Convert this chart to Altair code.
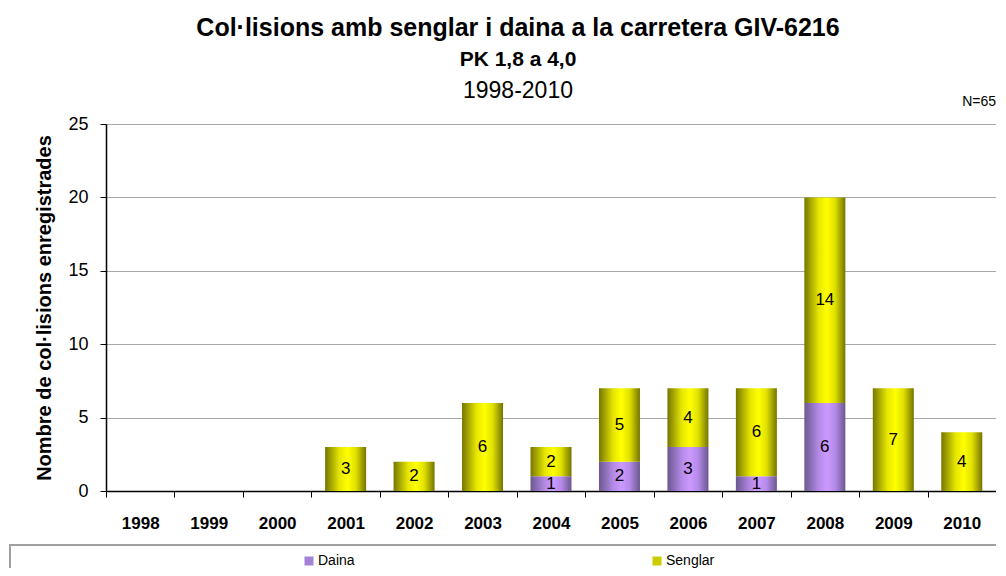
import altair as alt
import pandas as pd

years = ["1998", "1999", "2000", "2001", "2002", "2003", "2004",
         "2005", "2006", "2007", "2008", "2009", "2010"]
daina = [0, 0, 0, 0, 0, 0, 1, 2, 3, 1, 6, 0, 0]
senglar = [0, 0, 0, 3, 2, 6, 2, 5, 4, 6, 14, 7, 4]
series = ["Daina", "Senglar"]
series_colors = ["#a383d6", "#cccc00"]
y_ticks = [0, 5, 10, 15, 20, 25]

title1 = "Col·lisions amb senglar i daina a la carretera GIV-6216"
title2 = "PK 1,8 a 4,0"
title3 = "1998-2010"
note = "N=65"
y_title = "Nombre de col·lisions enregistrades"

FONT = "Liberation Sans"
W, H = 890, 367

df = pd.DataFrame({"year": years, "daina": daina, "senglar": senglar})
long_df = pd.DataFrame({
    "year": years * 2,
    "series": ["Daina"] * len(years) + ["Senglar"] * len(years),
    "value": daina + senglar,
})

yellow = alt.Gradient(
    gradient="linear", x1=0, x2=1, y1=0, y2=0,
    stops=[alt.GradientStop(color="#767600", offset=0),
           alt.GradientStop(color="#e6e600", offset=0.35),
           alt.GradientStop(color="#ffff00", offset=0.55),
           alt.GradientStop(color="#e0e000", offset=0.75),
           alt.GradientStop(color="#747400", offset=1)])
purple = alt.Gradient(
    gradient="linear", x1=0, x2=1, y1=0, y2=0,
    stops=[alt.GradientStop(color="#6a5890", offset=0),
           alt.GradientStop(color="#b48ae6", offset=0.35),
           alt.GradientStop(color="#cc99ff", offset=0.55),
           alt.GradientStop(color="#b58ae8", offset=0.75),
           alt.GradientStop(color="#6a5890", offset=1)])

xenc = alt.X("year:O", sort=years,
             scale=alt.Scale(paddingInner=0, paddingOuter=0),
             axis=alt.Axis(title=None, labelAngle=0, labelFont=FONT,
                           labelFontSize=17, labelFontWeight="bold",
                           labelColor="#000", labelPadding=18,
                           tickBand="extent", tickSize=6, tickColor="#000",
                           domainColor="#000", domainWidth=1.5, grid=False))
yscale = alt.Scale(domain=[0, 25], nice=False)
yaxis = alt.Axis(title=y_title, values=y_ticks, titleFont=FONT,
                 titleFontSize=20, titleFontWeight="bold", titleColor="#000",
                 titlePadding=13, labelFont=FONT, labelFontSize=18,
                 labelColor="#000", labelPadding=12, tickSize=6,
                 tickColor="#000", domainColor="#000", domainWidth=1.5,
                 grid=True, gridColor="#a8a8a8", gridWidth=1.2)

base = alt.Chart(df)

bars_d = base.transform_filter("datum.daina > 0").mark_bar(
    fill=purple, size=41).encode(
    x=xenc, y=alt.Y("daina:Q", scale=yscale, axis=yaxis))
bars_s = base.transform_filter("datum.senglar > 0").transform_calculate(
    total="datum.daina + datum.senglar").mark_bar(fill=yellow, size=41).encode(
    x=alt.X("year:O", sort=years), y=alt.Y("total:Q"), y2="daina:Q")

txt_d = base.transform_filter("datum.daina > 0").transform_calculate(
    mid="datum.daina / 2").mark_text(
    font=FONT, fontSize=17, color="#000", baseline="middle").encode(
    x=alt.X("year:O", sort=years), y="mid:Q", text="daina:Q")
txt_s = base.transform_filter("datum.senglar > 0").transform_calculate(
    mid="datum.daina + datum.senglar / 2").mark_text(
    font=FONT, fontSize=17, color="#000", baseline="middle").encode(
    x=alt.X("year:O", sort=years), y="mid:Q", text="senglar:Q")

legend_layer = alt.Chart(long_df).mark_square(opacity=0).encode(
    x=alt.X("year:O", sort=years), y="value:Q",
    color=alt.Color("series:N", sort=series,
                    scale=alt.Scale(domain=series, range=series_colors),
                    legend=alt.Legend(orient="none", legendX=196, legendY=430,
                                      direction="horizontal", title=None,
                                      symbolType="square", symbolSize=81,
                                      symbolOpacity=1, symbolStrokeWidth=0,
                                      labelFont=FONT, labelFontSize=14,
                                      labelColor="#000", labelOffset=2,
                                      columnPadding=295)))

box = alt.Chart(pd.DataFrame({"k": [0]})).mark_rect(
    fill="white", stroke="#a0a0a0", strokeWidth=2).encode(
    x=alt.value(-96), x2=alt.value(W + 40), y=alt.value(421), y2=alt.value(520))

def label(text, x, y, size, weight, align="center"):
    return alt.Chart(pd.DataFrame({"t": [text]})).mark_text(
        font=FONT, fontSize=size, fontWeight=weight, color="#000",
        align=align, baseline="middle").encode(
        text="t:N", x=alt.value(x), y=alt.value(y))

titles = (label(title1, 412, -96, 25, "bold")
          + label(title2, 412, -64, 21, "bold")
          + label(title3, 412, -33, 23, "normal")
          + label(note, W, -22, 14, "normal", align="right"))

chart = alt.layer(box, bars_d, bars_s, txt_d, txt_s, legend_layer, titles).properties(
    width=W, height=H,
    autosize=alt.AutoSizeParams(type="none"),
    padding={"left": 98, "top": 116, "right": 0, "bottom": 77},
).configure_view(stroke=None).configure(background="white")

chart.save("out.html", embed_options={"renderer": "svg", "actions": False})
